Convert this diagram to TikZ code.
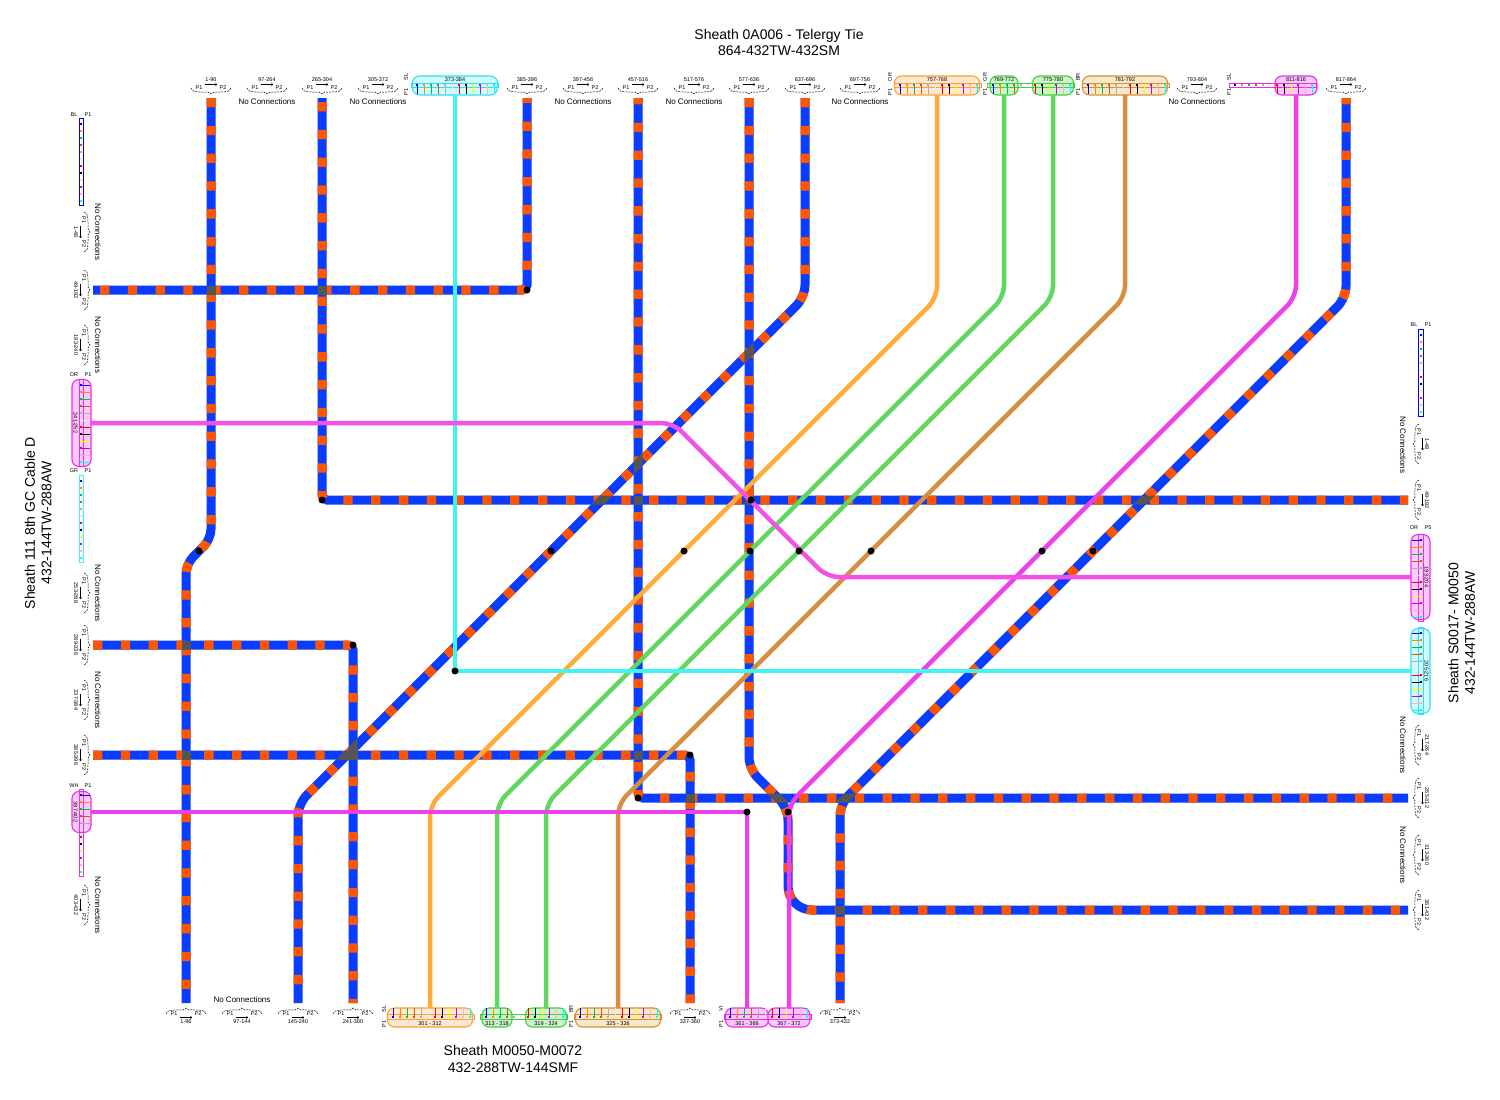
\documentclass[tikz,border=0pt]{standalone}
\usepackage{fontspec}
\setmainfont{Liberation Sans}
\definecolor{cblue}{HTML}{083CFF}
\definecolor{corange}{HTML}{FF5500}
\definecolor{xgray}{HTML}{555555}
\definecolor{lcyan}{HTML}{40F4F4}
\definecolor{lorange}{HTML}{FFAA3A}
\definecolor{lgreen}{HTML}{60D860}
\definecolor{lbrown}{HTML}{D68F40}
\definecolor{lmag}{HTML}{EC40EC}
\definecolor{lpink}{HTML}{F450E8}
\definecolor{bcyan}{HTML}{30E0F0}\definecolor{fcyan}{HTML}{CFFBFF}
\definecolor{borange}{HTML}{FFA030}\definecolor{forange}{HTML}{FCE8D4}
\definecolor{bgreen}{HTML}{40D040}\definecolor{fgreen}{HTML}{CDF2CD}
\definecolor{bbrown}{HTML}{D89030}\definecolor{fbrown}{HTML}{F6E8CC}
\definecolor{bmag}{HTML}{E830E8}\definecolor{fmag}{HTML}{FBC8FB}
\definecolor{fa}{HTML}{0000FF}\definecolor{fb}{HTML}{FF8C00}\definecolor{fc}{HTML}{00C040}
\definecolor{fd}{HTML}{C06010}\definecolor{fe}{HTML}{B0B0B0}\definecolor{ff}{HTML}{E8E8E8}
\definecolor{fg}{HTML}{FF0000}\definecolor{fh}{HTML}{000000}\definecolor{fi}{HTML}{FFFF00}
\definecolor{fj}{HTML}{D000D0}\definecolor{fk}{HTML}{FFB0C0}\definecolor{fl}{HTML}{00FFFF}
\tikzset{
 oT/.style={}, oB/.style={yscale=-1}, oL/.style={rotate=-90,yscale=-1}, oR/.style={rotate=-90},
 tinyt/.style={font=\fontsize{5.5}{6}\selectfont,inner sep=0pt,text=black},
 nctext/.style={font=\fontsize{8}{9}\selectfont,inner sep=0pt,text=black},
 titletext/.style={font=\fontsize{14}{16.5}\selectfont,inner sep=0pt,text=black,align=center},
 port/.style={inner sep=0pt,outer sep=0pt},
 fbox/.style={inner sep=0pt,outer sep=0pt,rounded corners=7pt,line width=1.1pt},
 cable/.style={draw=cblue,line width=9pt,rounded corners=12pt,postaction={draw=corange,dash pattern=on 9.3pt off 18.5pt,dash phase=#1}},
 thinl/.style={line width=4.5pt,rounded corners=12pt},
 tdot/.style={circle,fill=black,minimum size=7pt,inner sep=0pt,outer sep=0pt},
}
\newcount\tn
\newcommand{\tl}[4][]{\global\advance\tn by 1\relax\node[tinyt,#1] (t\the\tn) at (#2,#3) {#4};}
\newcommand{\fiberrow}[8]{%
 \begin{scope}[shift={(#1,#2)},#3]
  \draw[#4,line width=.7pt] (-6,-2) rectangle (81,2.5);
  \foreach \c [count=\i from 0] in {fa,fb,fc,fd,fe,ff,fg,fh,fi,fj,fk,fl}{%
   \fill[\c] ({7*\i-1},-1) rectangle ++(2.4,2.4);
   \pgfmathtruncatemacro\on{and(\i>=#5,\i<=#6)+and(\i>=#7,\i<=#8)}%
   \ifnum\on>0 \draw[\c,line width=.8pt] ({7*\i},0) -- ({7*\i},9);\fi
  }
 \end{scope}}
\newcommand{\spcloud}[8]{% name,x,y,orient,angle,w,h,num
 \node[port,minimum width=#6pt,minimum height=#7pt] (#1) at (#2,#3) {};
 \begin{scope}[shift={(#2,#3)},#4]
  \draw[black,line width=.5pt,dash pattern=on 2pt off 1pt] (-20,3) .. controls (-20,8) and (-8,7) .. (-3,7) -- (0,9) -- (3,7) .. controls (8,7) and (20,8) .. (20,3);
  \draw[black,line width=.4pt,->] (-6,-.5) -- (6,-.5);
  \tl[rotate=#5]{-12}{3}{P1}
  \tl[rotate=#5]{12}{3}{P2}
  \tl[rotate=#5]{0}{-5}{#8}
 \end{scope}}
\newcommand{\cloudT}[3]{\spcloud{#1}{#2}{85}{oT}{0}{42}{26}{#3}}
\newcommand{\cloudB}[3]{\spcloud{#1}{#2}{1017}{oB}{0}{42}{28}{#3}}
\newcommand{\cloudL}[3]{\spcloud{#1}{81}{#2}{oL}{-90}{24}{42}{#3}}
\newcommand{\cloudR}[3]{\spcloud{#1}{1422}{#2}{oR}{-90}{28}{42}{#3}}
% boxes: name,centre,size,border,fill,label
\newcommand{\boxT}[6]{\node[fbox,draw=#4,fill=#5,minimum width=#3pt,minimum height=19pt] (#1) at (#2,85.5) {};\tl{#2}{79.5}{#6}}
\newcommand{\boxB}[6]{\node[fbox,draw=#4,fill=#5,minimum width=#3pt,minimum height=19pt] (#1) at (#2,1017.5) {};\tl{#2}{1023.5}{#6}}
\newcommand{\boxL}[6]{\node[fbox,draw=#4,fill=#5,minimum width=19pt,minimum height=#3pt] (#1) at (81.5,#2) {};\tl[rotate=-90]{75.5}{#2}{#6}}
\newcommand{\boxR}[6]{\node[fbox,draw=#4,fill=#5,minimum width=19pt,minimum height=#3pt] (#1) at (1420.5,#2) {};\tl[rotate=-90]{1426.5}{#2}{#6}}
\newcommand{\elT}[4]{\tl[rotate=90]{#1}{#2}{#3}\tl[rotate=90]{#1}{#2+15}{#4}}
\newcommand{\elV}[4]{\tl{#1}{#2}{#3}\tl{#1+14}{#2}{#4}}
\newcommand{\xS}[2]{\fill[xgray] ({#1-4.5},{#2-4.5}) rectangle ({#1+4.5},{#2+4.5});}
\newcommand{\xHD}[2]{\fill[xgray] ({#1+4.5-6.4},{#2-4.5}) -- ({#1+4.5+6.4},{#2-4.5}) -- ({#1-4.5+6.4},{#2+4.5}) -- ({#1-4.5-6.4},{#2+4.5}) -- cycle;}
\newcommand{\xVD}[2]{\fill[xgray] ({#1-4.5},{#2+4.5-6.4}) -- ({#1-4.5},{#2+4.5+6.4}) -- ({#1+4.5},{#2-4.5+6.4}) -- ({#1+4.5},{#2-4.5-6.4}) -- cycle;}
\newcommand{\xHB}[2]{\fill[xgray] ({#1-4.5-6.4},{#2-4.5}) -- ({#1-4.5+6.4},{#2-4.5}) -- ({#1+4.5+6.4},{#2+4.5}) -- ({#1+4.5-6.4},{#2+4.5}) -- cycle;}
\newcommand{\ncH}[2]{\global\advance\tn by 1\relax\node[nctext] (t\the\tn) at (#1,#2) {No Connections};}
\newcommand{\ncV}[2]{\global\advance\tn by 1\relax\node[nctext,rotate=-90] (t\the\tn) at (#1,#2) {No Connections};}
\newcommand{\dotat}[3]{\node[tdot] (#1) at (#2,#3) {};}
\begin{document}
\begin{tikzpicture}[x=1pt,y=-1pt]
\useasboundingbox (0,0) rectangle (1500,1100);
\fill[white] (0,0) rectangle (1500,1100);
% titles
\node[titletext] (title1) at (779,42.5) {Sheath 0A006 - Telergy Tie\\864-432TW-432SM};
\node[titletext,rotate=90] (title2) at (38,523) {Sheath 111 8th GC Cable D\\432-144TW-288AW};
\node[titletext,rotate=90] (title3) at (1461.5,633) {Sheath S0017- M0050\\432-144TW-288AW};
\node[titletext] (title4) at (513,1059) {Sheath M0050-M0072\\432-288TW-144SMF};
% top terminals
\cloudT{ct211}{211}{1-96}
\cloudT{ct267}{267}{97-264}\ncH{267}{102}
\cloudT{ct322}{322}{265-304}
\cloudT{ct378}{378}{305-372}\ncH{378}{102}
\boxT{bt455}{455}{85}{bcyan}{fcyan}{373-384}
\fiberrow{417}{85}{oT}{bcyan}{0}{11}{-1}{-1}
\elT{406}{77}{SL}{P1}
\cloudT{ct527}{527}{385-396}
\cloudT{ct583}{583}{397-456}\ncH{583}{102}
\cloudT{ct638}{638}{457-516}
\cloudT{ct694}{694}{517-576}\ncH{694}{102}
\cloudT{ct749}{749}{577-636}
\cloudT{ct805}{805}{637-696}
\cloudT{ct860}{860}{697-756}\ncH{860}{102}
\boxT{bt937}{937}{85}{borange}{forange}{757-768}
\fiberrow{900}{85}{oT}{borange}{0}{11}{-1}{-1}
\elT{890}{77}{OR}{P1}
\boxT{bt1004}{1004}{28}{bgreen}{fgreen}{769-772}
\boxT{bt1053}{1053}{41}{bgreen}{fgreen}{775-780}
\fiberrow{993}{85}{oT}{bgreen}{0}{3}{6}{11}
\elT{985}{77}{GR}{P1}
\boxT{bt1125}{1125}{85}{bbrown}{fbrown}{781-792}
\fiberrow{1088}{85}{oT}{bbrown}{0}{11}{-1}{-1}
\elT{1078}{77}{BR}{P1}
\cloudT{ct1197}{1197}{793-804}\ncH{1197}{102}
\boxT{bt1296}{1296}{42}{bmag}{fmag}{811-816}
\fiberrow{1235}{85}{oT}{bmag}{6}{11}{-1}{-1}
\elT{1229}{77}{SL}{P1}
\cloudT{ct1346}{1346}{817-864}
% left terminals
\fiberrow{81}{124}{oL}{fa}{-1}{-1}{-1}{-1}
\elV{74}{115}{BL}{P1}
\cloudL{cl232}{232}{1-48}\ncV{98}{232}
\cloudL{cl290}{290}{49-192}
\cloudL{cl345}{345}{193-240}\ncV{98}{345}
\boxL{bl423}{423}{87}{bmag}{fmag}{241-252}
\fiberrow{81}{385}{oL}{bmag}{0}{11}{-1}{-1}
\elV{74}{375}{OR}{P1}
\fiberrow{81}{481}{oL}{lcyan}{-1}{-1}{-1}{-1}
\elV{74}{471}{GR}{P1}
\cloudL{cl593}{593}{253-288}\ncV{98}{593}
\cloudL{cl645}{645}{289-336}
\cloudL{cl700}{700}{337-384}\ncV{98}{700}
\cloudL{cl755}{755}{385-396}
\boxL{bl812}{812}{41}{bmag}{fmag}{397-402}
\fiberrow{81}{795}{oL}{bmag}{0}{4}{-1}{-1}
\elV{74}{786}{WH}{P1}
\cloudL{cl905}{905}{403-432}\ncV{98}{905}
% right terminals
\fiberrow{1421}{335}{oR}{fa}{-1}{-1}{-1}{-1}
\elV{1414}{325}{BL}{P1}
\cloudR{cr444}{444}{1-48}\ncV{1403}{445}
\cloudR{cr500}{500}{49-192}
\boxR{br577}{577}{85}{bmag}{fmag}{193-204}
\fiberrow{1421}{540}{oR}{bmag}{0}{11}{-1}{-1}
\elV{1414}{528}{OR}{P5}
\boxR{br671}{671}{85}{bcyan}{fcyan}{205-216}
\fiberrow{1421}{633}{oR}{bcyan}{0}{11}{-1}{-1}
\cloudR{cr745}{745}{217-264}\ncV{1403}{745}
\cloudR{cr798}{798}{265-312}
\cloudR{cr855}{855}{313-360}\ncV{1403}{855}
\cloudR{cr910}{910}{361-432}
% bottom terminals
\cloudB{cb186}{186}{1-96}
\cloudB{cb242}{242}{97-144}\ncH{242}{1000}
\cloudB{cb298}{298}{145-240}
\cloudB{cb353}{353}{241-300}
\boxB{bb430}{430}{85}{borange}{forange}{301 - 312}
\fiberrow{393}{1017}{oB}{borange}{0}{11}{-1}{-1}
\elT{384}{1009}{SL}{P1}
\boxB{bb497}{497}{30}{bgreen}{fgreen}{313 - 318}
\boxB{bb546}{546}{41}{bgreen}{fgreen}{319 - 324}
\fiberrow{486}{1017}{oB}{bgreen}{0}{3}{6}{11}
\boxB{bb618}{618}{85}{bbrown}{fbrown}{325 - 336}
\fiberrow{580}{1017}{oB}{bbrown}{0}{11}{-1}{-1}
\elT{571}{1009}{BR}{P1}
\cloudB{cb690}{690}{337-360}
\boxB{bb747}{747}{43}{bmag}{fmag}{361 - 366}
\boxB{bb789}{789}{42}{bmag}{fmag}{367 - 372}
\fiberrow{730}{1017}{oB}{bmag}{0}{5}{6}{11}
\elT{721}{1009}{VI}{P1}
\cloudB{cb840}{840}{373-432}
% cables
\draw[cable=20.8] (cl290.east) [rounded corners=5pt] -- (527,290) -- (ct527.south);
\draw[cable=0] (ct211.south) [rounded corners=10pt] -- (211,539) -- (186,564) -- (cb186.north);
\draw[cable=23.8] (ct322.south) [rounded corners=5pt] -- (322,500) -- (cr500.west);
\draw[cable=3] (ct638.south) [rounded corners=5pt] -- (638,798) -- (cr798.west);
\draw[cable=0] (ct805.south) -- (805,297) -- (298,804) -- (cb298.north);
\draw[cable=0] (ct749.south) -- (749,769) -- (788,808) [rounded corners=24pt] -- (788,910) -- (cr910.west);
\draw[cable=3] (ct1346.south) -- (1346,298) -- (840,804) -- (cb840.north);
\draw[cable=0] (cl645.east) [rounded corners=5pt] -- (353,645) -- (cb353.north);
\draw[cable=0] (cl755.east) [rounded corners=5pt] -- (690,755) -- (cb690.north);
% cable crossings
\xS{211}{290}\xS{322}{290}\xS{186}{645}\xS{186}{755}\xS{353}{755}
\xS{638}{500}\xS{749}{500}\xS{638}{755}\xS{690}{798}\xS{840}{910}
\xHD{347}{755}\xVD{353}{749}\xVD{638}{464}\xHD{602}{500}\xVD{749}{353}
\xHD{1144}{500}\xHD{846}{798}\xHB{778}{798}
% single-tube connectors
\draw[thinl,lorange] (bt937.south) -- (937,298) -- (430,805) -- (bb430.north);
\draw[thinl,lgreen] (bt1004.south) -- (1004,297) -- (497,804) -- (bb497.north);
\draw[thinl,lgreen] (bt1053.south) -- (1053,297) -- (546,804) -- (bb546.north);
\draw[thinl,lbrown] (bt1125.south) -- (1125,297) -- (618,804) -- (bb618.north);
\draw[thinl,lmag] (bt1296.south) -- (1296,297) -- (789,804) -- (bb789.north);
\draw[thinl,lcyan,sharp corners] (bt455.south) -- (455,671) -- (br671.west);
\draw[thinl,lpink] (bl423.east) -- (673,423) -- (827,577) -- (br577.west);
\draw[thinl,lmag,sharp corners] (bl812.east) -- (747,812) -- (bb747.north);
% splice dots
\dotat{d1}{199}{551}\dotat{d2}{527}{290}\dotat{d3}{322}{500}\dotat{d4}{551}{551}
\dotat{d5}{684}{551}\dotat{d6}{750}{551}\dotat{d7}{751}{500}\dotat{d8}{799}{551}
\dotat{d9}{871}{551}\dotat{d10}{1042}{551}\dotat{d11}{1093}{551}\dotat{d12}{455}{671}
\dotat{d13}{353}{645}\dotat{d14}{690}{755}\dotat{d15}{638}{798}\dotat{d16}{747}{812}
\dotat{d17}{788}{812}
\end{tikzpicture}
\end{document}
